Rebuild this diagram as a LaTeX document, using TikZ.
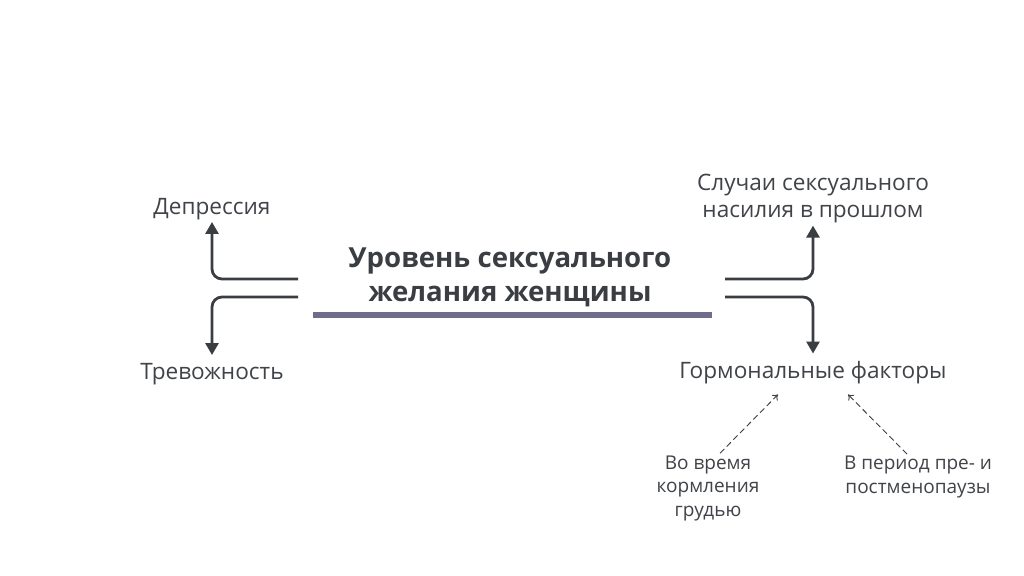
\documentclass[tikz,border=0pt]{standalone}
\usepackage{fontspec}
\setmainfont{Open Sans}
\usetikzlibrary{positioning,arrows.meta}
\definecolor{txtgray}{HTML}{404348}
\definecolor{linegray}{HTML}{3A3D42}
\definecolor{barpurple}{HTML}{6F6D8B}
\tikzset{
	lbl/.style={text=txtgray,font=\fontsize{22.6}{27}\selectfont,align=center,inner sep=2pt},
	small/.style={text=txtgray,font=\fontsize{19}{23.5}\selectfont,align=center,inner sep=2pt},
	flow/.style={draw=linegray,line width=2.8pt,rounded corners=10pt,-{Triangle[length=12pt,width=13pt]}},
	hint/.style={draw=linegray,line width=0.9pt,dash pattern=on 6pt off 3.5pt,-{To[length=5pt,width=8pt]}}
}
\begin{document}
\begin{tikzpicture}[x=1pt,y=-1pt]
	\useasboundingbox[fill=white] (0,0) rectangle (1024,575);
	\node[text=linegray,font=\bfseries\fontsize{27.6}{34}\selectfont,align=center] (title) at (510,277) {Уровень сексуального\\желания женщины};
	\coordinate (barL) at (313,315);
	\coordinate (barR) at (712,315);
	\draw[barpurple,line width=6.5pt] (barL) -- (barR);
	\node[lbl] (dep) at (212,209) {Депрессия};
	\node[lbl] (trev) at (212,374) {Тревожность};
	\node[lbl] (nasil) at (813,199) {Случаи сексуального\\насилия в прошлом};
	\node[lbl] (gorm) at (813,373) {Гормональные факторы};
	\node[small] (korm) at (708,488) {Во время\\кормления\\грудью};
	\node[small] (meno) at (918,477) {В период пре- и\\постменопаузы};
	\coordinate (lu) at (298,279);
	\coordinate (ld) at (298,297);
	\coordinate (ru) at (725,279);
	\coordinate (rd) at (725,297);
	\path[flow] (lu) -| (dep.south);
	\path[flow,shorten >=6pt] (ld) -| (trev.north);
	\path[flow] (ru) -| (nasil.south);
	\path[flow,shorten >=6pt] (rd) -| (gorm.north);
	\path[hint] ([xshift=12pt]korm.north) -- ([xshift=-35pt,yshift=-8pt]gorm.south);
	\path[hint] ([xshift=-11pt]meno.north) -- ([xshift=35pt,yshift=-8pt]gorm.south);
\end{tikzpicture}
\end{document}
